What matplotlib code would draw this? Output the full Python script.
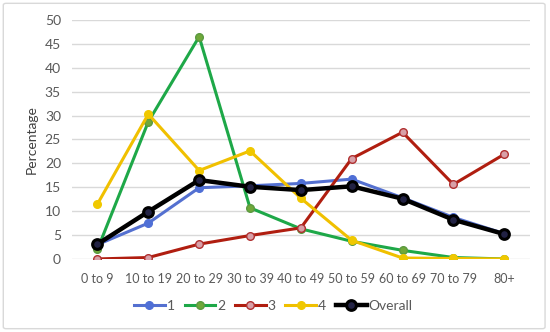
import matplotlib
matplotlib.use("Agg")
import matplotlib.pyplot as plt
from matplotlib.patches import FancyBboxPatch

categories = ["0 to 9", "10 to 19", "20 to 29", "30 to 39", "40 to 49",
              "50 to 59", "60 to 69", "70 to 79", "80+"]
s1 = [3.0, 7.5, 14.9, 15.3, 15.8, 16.7, 12.8, 8.7, 5.3]
s2 = [2.0, 28.7, 46.5, 10.7, 6.3, 3.7, 1.8, 0.3, 0.0]
s3 = [0.0, 0.3, 3.1, 4.9, 6.5, 21.0, 26.5, 15.6, 21.9]
s4 = [11.5, 30.3, 18.5, 22.6, 12.7, 3.9, 0.2, 0.1, 0.0]
overall = [3.1, 9.9, 16.5, 15.1, 14.4, 15.2, 12.6, 8.2, 5.2]

plt.rcParams["font.family"] = ["Lato", "DejaVu Sans"]

fig = plt.figure(figsize=(5.5, 3.32), dpi=100)
ax = fig.add_axes([0.131, 0.22, 0.832, 0.72])

x = range(len(categories))
ax.plot(x, s1, color="#5470d0", lw=2.2, marker="o", ms=5.5,
        mfc="#4f6fd6", mec="#4f6fd6", label="1", zorder=3)
ax.plot(x, s2, color="#1ea848", lw=2.2, marker="o", ms=5.5,
        mfc="#70a83a", mec="#5a9a40", label="2", zorder=3)
ax.plot(x, s3, color="#b01e10", lw=2.2, marker="o", ms=5.5,
        mfc="#d8a0a8", mec="#b03030", label="3", zorder=3)
ax.plot(x, s4, color="#f0c000", lw=2.2, marker="o", ms=5.5,
        mfc="#f0c800", mec="#f0c800", label="4", zorder=3)
ax.plot(x, overall, color="black", lw=3.2, marker="o", ms=7,
        mfc="#222244", mec="black", mew=2.2, label="Overall", zorder=4)

ax.set_xlim(-0.5, len(categories) - 0.5)
ax.set_ylim(0, 50)
ax.set_yticks(range(0, 51, 5))
ax.set_xticks(list(x))
ax.set_xticklabels(categories)
ax.grid(axis="y", color="#d9d9d9", lw=1)
ax.set_axisbelow(True)
for sp in ax.spines.values():
    sp.set_visible(False)
ax.tick_params(length=0, labelsize=10, colors="#595959", pad=8)
ax.tick_params(axis="x", pad=10, labelsize=9)
ax.set_ylabel("Percentage", fontsize=10, color="#404040", labelpad=5)

ax.legend(loc="upper center", bbox_to_anchor=(0.44, -0.12), ncol=5,
          frameon=False, fontsize=10, handlelength=2.2, columnspacing=0.7,
          handletextpad=0.15, labelcolor="#595959")

border = FancyBboxPatch((0.006, 0.01), 0.985, 0.98, boxstyle="round,pad=0,rounding_size=0.005",
                        transform=fig.transFigure, fill=False, ec="#d9d9d9", lw=1)
fig.patches.append(border)

fig.savefig("out.png", dpi=100)
